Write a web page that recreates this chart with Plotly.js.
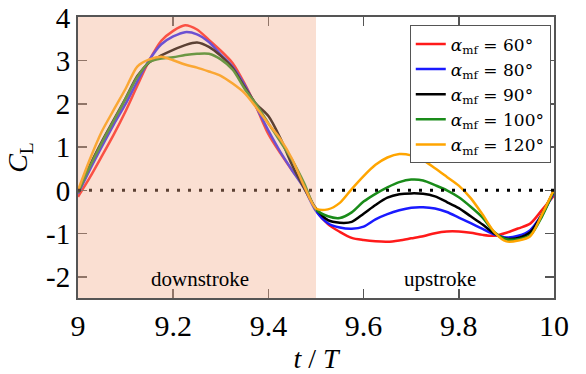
<!DOCTYPE html>
<html>
<head>
<meta charset="utf-8">
<script src="https://cdn.plot.ly/plotly-3.0.1.min.js"></script>
<style>html,body{margin:0;padding:0;background:#fff;}#chart{width:586px;height:374px;}</style>
</head>
<body>
<div id="chart"></div>
<script>
// time (t/T)
const t = [9.000,9.025,9.050,9.075,9.100,9.125,9.150,9.175,9.200,9.225,9.250,9.275,9.300,9.325,9.350,9.375,9.400,9.425,9.450,9.475,9.500,9.525,9.550,9.575,9.600,9.625,9.650,9.675,9.700,9.725,9.750,9.775,9.800,9.825,9.850,9.875,9.900,9.925,9.950,9.975,10.000];

const cl60  = [-0.15,0.30,0.79,1.29,1.83,2.43,3.01,3.46,3.69,3.82,3.72,3.48,3.23,2.94,2.47,1.91,1.30,0.86,0.46,0.10,-0.46,-0.78,-0.96,-1.10,-1.15,-1.18,-1.19,-1.16,-1.11,-1.06,-0.99,-0.95,-0.95,-0.98,-1.03,-1.05,-0.98,-0.88,-0.77,-0.45,-0.12];
const cl80  = [-0.08,0.48,1.01,1.52,2.00,2.53,3.02,3.38,3.56,3.66,3.61,3.43,3.14,2.86,2.44,1.92,1.38,0.89,0.46,0.05,-0.48,-0.76,-0.86,-0.89,-0.84,-0.67,-0.55,-0.46,-0.40,-0.39,-0.42,-0.50,-0.63,-0.76,-0.89,-1.02,-1.09,-1.05,-0.92,-0.55,-0.05];
const cl90  = [-0.05,0.58,1.13,1.63,2.13,2.65,2.96,3.12,3.25,3.36,3.42,3.32,3.11,2.83,2.39,1.99,1.72,1.21,0.58,0.05,-0.42,-0.69,-0.75,-0.73,-0.54,-0.34,-0.17,-0.09,-0.07,-0.08,-0.14,-0.27,-0.41,-0.60,-0.79,-1.00,-1.12,-1.10,-0.97,-0.55,0.00];
const cl100 = [-0.05,0.55,1.10,1.61,2.12,2.63,2.97,3.05,3.08,3.13,3.16,3.16,3.03,2.79,2.35,1.98,1.55,1.13,0.70,0.17,-0.44,-0.60,-0.64,-0.51,-0.26,-0.08,0.07,0.19,0.25,0.23,0.12,0.00,-0.16,-0.38,-0.63,-0.97,-1.13,-1.13,-1.04,-0.60,0.00];
const cl120 = [0.00,0.72,1.36,1.86,2.35,2.87,3.03,3.09,3.01,2.91,2.84,2.75,2.65,2.47,2.25,1.91,1.54,1.19,0.72,0.10,-0.42,-0.44,-0.29,0.03,0.33,0.59,0.76,0.84,0.81,0.70,0.51,0.31,0.11,-0.18,-0.56,-0.97,-1.18,-1.16,-1.06,-0.55,0.02];

const names = ['<i>α</i><sub>mf</sub> = 60°','<i>α</i><sub>mf</sub> = 80°','<i>α</i><sub>mf</sub> = 90°','<i>α</i><sub>mf</sub> = 100°','<i>α</i><sub>mf</sub> = 120°'];
const colors = ['#ff1a1a','#1a1aff','#000000','#1a8c1a','#ffa500'];
const series = [cl60, cl80, cl90, cl100, cl120];

const xTicks = [9, 9.2, 9.4, 9.6, 9.8, 10];
const xTickText = ['9','9.2','9.4','9.6','9.8','10'];
const yTicks = [-2,-1,0,1,2,3,4];
const yTickText = ['-2','-1','0','1','2','3','4'];

const traces = series.map((s,i) => ({
  x: t, y: s, name: names[i], type: 'scatter', mode: 'lines',
  line: {color: colors[i], width: 2.5, shape: 'spline', smoothing: 0.8}
}));

const serif = "'Liberation Serif', 'Times New Roman', serif";
const layout = {
  width: 586, height: 374,
  margin: {l: 78, r: 32, t: 17, b: 76},
  paper_bgcolor: '#ffffff', plot_bgcolor: '#ffffff',
  showlegend: true,
  legend: {x: 0.697, y: 0.97, xanchor: 'left', yanchor: 'top',
           bgcolor: '#ffffff', bordercolor: '#555555', borderwidth: 1,
           font: {family: "'DejaVu Serif', serif", size: 17, color: '#000'}, itemwidth: 30, tracegroupgap: 0},
  xaxis: {range: [9, 10], tickvals: xTicks, ticktext: xTickText,
          ticks: 'inside', ticklen: 9, tickwidth: 1.5, tickcolor: '#555',
          showline: true, linecolor: '#555', linewidth: 2, mirror: 'ticks',
          showgrid: false, zeroline: false, ticklabeloverflow: 'allow',
          tickfont: {family: serif, size: 30, color: '#000'},
          title: {text: '<i>t</i> / <i>T</i>', font: {family: serif, size: 28, color: '#000'}, standoff: 13}},
  yaxis: {range: [-2.49, 4.01], tickvals: yTicks, ticktext: yTickText,
          ticks: 'inside', ticklen: 9, tickwidth: 1.5, tickcolor: '#555',
          showline: true, linecolor: '#555', linewidth: 2, mirror: 'ticks',
          showgrid: false, zeroline: false, ticklabeloverflow: 'allow',
          tickfont: {family: serif, size: 29, color: '#000'},
          title: {text: '<i>C</i><sub>L</sub>', font: {family: serif, size: 28, color: '#000'}, standoff: 10}},
  shapes: [
    {type: 'line', xref: 'x', yref: 'y', x0: 9, x1: 10, y0: 0, y1: 0, layer: 'above',
     line: {color: '#000', width: 3, dash: '3px,8px'}},
    {type: 'rect', xref: 'x', yref: 'paper', x0: 9, x1: 9.5, y0: 0, y1: 1, layer: 'above',
     fillcolor: 'rgba(242,172,138,0.38)', line: {width: 0}}
  ],
  annotations: [
    {x: 9.256, y: -2.05, xref: 'x', yref: 'y', text: 'downstroke', showarrow: false,
     font: {family: serif, size: 21, color: '#000'}},
    {x: 9.76, y: -2.05, xref: 'x', yref: 'y', text: 'upstroke', showarrow: false,
     font: {family: serif, size: 21, color: '#000'}}
  ]
};

Plotly.newPlot('chart', traces, layout, {displayModeBar: false, staticPlot: true});
</script>
</body>
</html>
